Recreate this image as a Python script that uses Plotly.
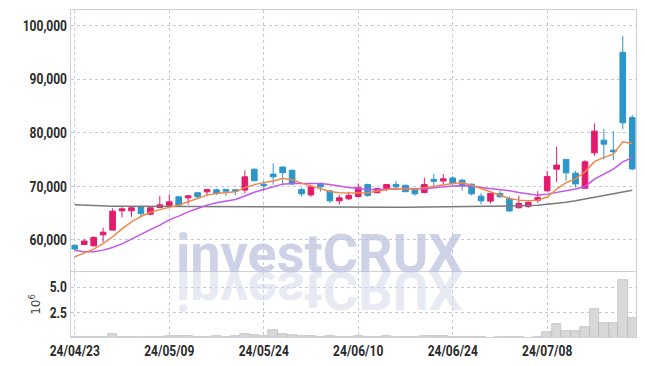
import plotly.graph_objects as go

dates = [
    "2024-04-23", "2024-04-24", "2024-04-25", "2024-04-26", "2024-04-29", "2024-04-30",
    "2024-05-02", "2024-05-03", "2024-05-07", "2024-05-08", "2024-05-09", "2024-05-10",
    "2024-05-13", "2024-05-14", "2024-05-16", "2024-05-17", "2024-05-20", "2024-05-21",
    "2024-05-22", "2024-05-23", "2024-05-24", "2024-05-27", "2024-05-28", "2024-05-29",
    "2024-05-30", "2024-05-31", "2024-06-03", "2024-06-04", "2024-06-05", "2024-06-07",
    "2024-06-10", "2024-06-11", "2024-06-12", "2024-06-13", "2024-06-14", "2024-06-17",
    "2024-06-18", "2024-06-19", "2024-06-20", "2024-06-21", "2024-06-24", "2024-06-25",
    "2024-06-26", "2024-06-27", "2024-06-28", "2024-07-01", "2024-07-02", "2024-07-03",
    "2024-07-04", "2024-07-05", "2024-07-08", "2024-07-09", "2024-07-10", "2024-07-11",
    "2024-07-12", "2024-07-15", "2024-07-16", "2024-07-17", "2024-07-18", "2024-07-19",
]

opens = [59000, 59150, 58900, 60950, 61830, 65430, 65430, 66250, 64800, 66050,
         66400, 68050, 67850, 68800, 68970, 69350, 69420, 69350, 69300, 73200,
         70400, 72280, 73600, 73000, 69420, 68400, 70540, 69160, 67290, 67670,
         68100, 70350, 68800, 69480, 70350, 70200, 69420, 68860, 71300, 71000,
         71550, 71150, 70400, 68170, 67240, 68675, 67700, 66000, 66250, 67400,
         69160, 73200, 75020, 72450, 69650, 76250, 78620, 76750, 95000, 82850]
highs = [59100, 60150, 60700, 62300, 65900, 66100, 66100, 66300, 66200, 68200,
         68500, 68100, 68300, 68900, 69500, 69600, 69500, 69450, 73000, 73300,
         71000, 74270, 73700, 73100, 69700, 70200, 70700, 69300, 68360, 69000,
         70540, 70500, 69700, 70400, 70970, 70300, 69500, 71600, 72300, 72300,
         71900, 71400, 70500, 68700, 68800, 69100, 68100, 68230, 67200, 69100,
         72900, 77370, 75100, 72900, 74900, 81740, 80670, 80300, 98100, 83300]
lows = [58100, 59000, 58800, 59600, 61800, 64200, 64300, 64200, 64600, 65900,
        66300, 66400, 66600, 67600, 68200, 68350, 68230, 68350, 68700, 70950,
        69200, 70300, 70400, 70200, 68100, 68040, 69000, 66900, 66620, 67400,
        67930, 68050, 68700, 69100, 69300, 68900, 68230, 68700, 69900, 70200,
        70400, 69200, 68300, 66620, 66800, 67900, 65300, 65900, 66000, 66900,
        69000, 70840, 71030, 69800, 69500, 75700, 75020, 74900, 80650, 73000]
closes = [58300, 59800, 60450, 61450, 65370, 65800, 66000, 64900, 66000, 66550,
          67100, 66500, 68230, 68050, 69420, 68680, 69100, 69100, 71770, 71050,
          70100, 71770, 72550, 70450, 68600, 69900, 69900, 67290, 67850, 68300,
          69750, 68300, 69600, 70350, 69900, 69000, 68600, 70350, 70930, 71400,
          70500, 70300, 68600, 67290, 68675, 68040, 65400, 66810, 67000, 67900,
          71850, 73960, 72520, 70450, 74570, 80300, 77870, 76440, 81850, 73250]

# moving averages
ma_short = [56845, 57535, 58280, 59310, 60580, 62050, 63375, 64380, 65150, 65650,
            66025, 66490, 67110, 67740, 68360, 68675, 68860, 68970, 69760, 70320,
            70690, 71010, 71475, 71210, 70600, 70130, 69660, 69050, 68820, 68730,
            68770, 68790, 69160, 69420, 69610, 69610, 69480, 69720, 70040, 70220,
            70540, 70650, 70220, 69610, 68970, 68360, 67740, 67425, 67290, 67425,
            68000, 69500, 70700, 71400, 72700, 74600, 75400, 76000, 78300, 78000]
ma_mid = [58095, 57780, 57815, 58095, 58600, 59270, 60150, 61080, 61920, 62760,
          63750, 64440, 65240, 65875, 66490, 66920, 67290, 67555, 68200, 68900,
          69420, 69910, 70410, 70540, 70540, 70540, 70540, 70355, 70040, 69795,
          69610, 69420, 69420, 69420, 69480, 69610, 69610, 69480, 69720, 69910,
          70040, 70090, 70040, 69795, 69610, 69420, 69160, 68860, 68545, 68360,
          68545, 68880, 69140, 69515, 69980, 71340, 72275, 73210, 74570, 75355]
ma_long = [66585, 66490, 66400, 66340, 66300, 66290, 66280, 66270, 66270, 66260,
           66260, 66250, 66250, 66250, 66240, 66240, 66230, 66230, 66230, 66220,
           66220, 66200, 66190, 66170, 66160, 66150, 66140, 66130, 66110, 66100,
           66090, 66080, 66080, 66080, 66090, 66100, 66110, 66120, 66130, 66150,
           66170, 66190, 66210, 66240, 66270, 66300, 66330, 66360, 66400, 66490,
           66640, 66810, 67015, 67290, 67610, 67930, 68265, 68640, 69010, 69290]

volumes_m = [0.15, 0.12, 0.13, 0.14, 0.38, 0.15, 0.12, 0.13, 0.15, 0.14,
             0.24, 0.16, 0.24, 0.15, 0.14, 0.16, 0.15, 0.18, 0.45, 0.27,
             0.18, 0.79, 0.38, 0.27, 0.18, 0.16, 0.15, 0.17, 0.15, 0.14,
             0.16, 0.15, 0.12, 0.24, 0.15, 0.10, 0.12, 0.24, 0.24, 0.24,
             0.15, 0.14, 0.15, 0.13, 0.05, 0.06, 0.12, 0.12, 0.05, 0.15,
             0.58, 1.37, 0.68, 0.68, 1.13, 2.90, 1.47, 1.47, 5.75, 1.99]
volumes = [v * 1e6 for v in volumes_m]

tick_dates = ["2024-04-23", "2024-05-09", "2024-05-24", "2024-06-10", "2024-06-24", "2024-07-08"]
tick_labels = ["24/04/23", "24/05/09", "24/05/24", "24/06/10", "24/06/24", "24/07/08"]
price_ticks = [60000, 70000, 80000, 90000, 100000]
vol_ticks = [2.5e6, 5.0e6]
vol_tick_labels = ["2.5", "5.0"]
watermark = "investCRUX"

UP = "#e31b6d"
DOWN = "#2c96c8"
GRID = "#c5c9de"
FRAME = "#d0d0d8"
TICKFONT = dict(family="Roboto, DejaVu Sans, sans-serif", size=15, color="#2a2a2a", weight="bold")
VOL_DOMAIN_TOP = 0.199

fig = go.Figure()
fig.add_trace(go.Candlestick(
    x=dates, open=opens, high=highs, low=lows, close=closes,
    increasing=dict(line=dict(color=UP, width=1), fillcolor=UP),
    decreasing=dict(line=dict(color=DOWN, width=1), fillcolor=DOWN),
    whiskerwidth=0, showlegend=False, hoverinfo="skip", xaxis="x", yaxis="y"))
fig.add_trace(go.Scatter(x=dates, y=ma_long, mode="lines", line=dict(color="#7a7a7a", width=1.5),
                         showlegend=False, hoverinfo="skip", xaxis="x", yaxis="y"))
fig.add_trace(go.Scatter(x=dates, y=ma_mid, mode="lines", line=dict(color="#c455e8", width=1.5),
                         showlegend=False, hoverinfo="skip", xaxis="x", yaxis="y"))
fig.add_trace(go.Scatter(x=dates, y=ma_short, mode="lines", line=dict(color="#f0874a", width=1.5),
                         showlegend=False, hoverinfo="skip", xaxis="x", yaxis="y"))
fig.add_trace(go.Bar(x=dates, y=volumes, marker=dict(color="#d8d8d8", line=dict(color="#b4b4b4", width=0.6)),
                     showlegend=False, hoverinfo="skip", xaxis="x2", yaxis="y2"))

axis_common = dict(showgrid=True, gridcolor=GRID, griddash="dot", gridwidth=1,
                   showline=True, mirror=True, linecolor=FRAME, linewidth=1,
                   zeroline=False, ticks="", automargin=False)

fig.update_layout(
    width=645, height=366,
    margin=dict(l=71, r=9, t=10, b=29),
    paper_bgcolor="white", plot_bgcolor="white",
    font=dict(family="Roboto, DejaVu Sans, sans-serif", size=13, color="#222"),
    bargap=0,
    boxgap=0.15,
    xaxis=dict(type="category", domain=[0, 1], anchor="y", range=[-0.4, 59.4],
               tickvals=tick_dates, showticklabels=False,
               rangeslider=dict(visible=False), **axis_common),
    xaxis2=dict(type="category", domain=[0, 1], anchor="y2", range=[-0.4, 59.4], matches="x",
                tickvals=tick_dates, ticktext=tick_labels, tickfont=TICKFONT, **axis_common),
    yaxis=dict(domain=[0.2018, 1], anchor="x", range=[54200, 102900],
               tickvals=price_ticks, tickformat=",d", tickfont=TICKFONT, **axis_common),
    yaxis2=dict(domain=[0, VOL_DOMAIN_TOP], anchor="x2", range=[0.1e6, 6.5e6],
                tickvals=vol_ticks, ticktext=vol_tick_labels, tickfont=TICKFONT,
                title=dict(text="10<sup>6</sup>", font=dict(family="DejaVu Sans", size=12, color="#444"),
                           standoff=2),
                **axis_common),
    annotations=[
        dict(text=watermark, xref="paper", yref="paper", x=0.4407, y=0.45,
             xanchor="center", yanchor="bottom", showarrow=False,
             font=dict(family="Roboto, DejaVu Sans, sans-serif", size=54,
                       color="rgba(186,193,222,0.72)", weight="bold")),
        dict(text=watermark, xref="paper", yref="paper", x=0.4407, y=0.0,
             xanchor="center", yanchor="top", showarrow=False,
             font=dict(family="Roboto, DejaVu Sans, sans-serif", size=54,
                       color="rgba(212,216,234,0.55)", weight="bold")),
    ],
)

post = """
document.documentElement.style.margin = '0';
document.documentElement.style.overflow = 'hidden';
document.body.style.margin = '0';
document.body.style.padding = '0';
document.body.style.overflow = 'hidden';
var gd = document.getElementById('{plot_id}');
var L = gd._fullLayout;
var svg = gd.querySelector('.main-svg');
var svgTop = svg.getBoundingClientRect().top;
var target = svgTop + L._size.t + L._size.h * (1 - %f);
var S = 1.0;
function place(idx, flip) {
  var t = gd.querySelector('g.annotation[data-index="' + idx + '"] text.annotation-text');
  if (!t) return;
  var by = t.getStartPositionOfChar(0).y;
  var shift = target - (t.getScreenCTM().f + by);
  var ex = t.getAttribute('transform') || '';
  if (flip) {
    t.setAttribute('transform', ex + ' translate(0,' + (shift + by * (1 + S)) + ') scale(1,' + (-S) + ')');
  } else {
    t.setAttribute('transform', ex + ' translate(0,' + (shift + by * (1 - S)) + ') scale(1,' + S + ')');
  }
}
place(0, false);
place(1, true);
function squeeze(sel, sx, mode) {
  gd.querySelectorAll(sel).forEach(function (t) {
    var b = t.getBBox();
    var ax = mode === 'end' ? b.x + b.width : b.x + b.width / 2;
    var ay = b.y + b.height / 2;
    var ex = t.getAttribute('transform') || '';
    t.setAttribute('transform', ex + ' translate(' + ax + ',' + ay + ') scale(' + sx + ',1) translate(' + (-ax) + ',' + (-ay) + ')');
  });
}
squeeze('g.ytick text', 0.8, 'end');
squeeze('g.y2tick text', 0.8, 'end');
squeeze('g.x2tick text', 0.8, 'middle');
""" % VOL_DOMAIN_TOP

fig.write_html("out.html", config={"displayModeBar": False}, post_script=post)
